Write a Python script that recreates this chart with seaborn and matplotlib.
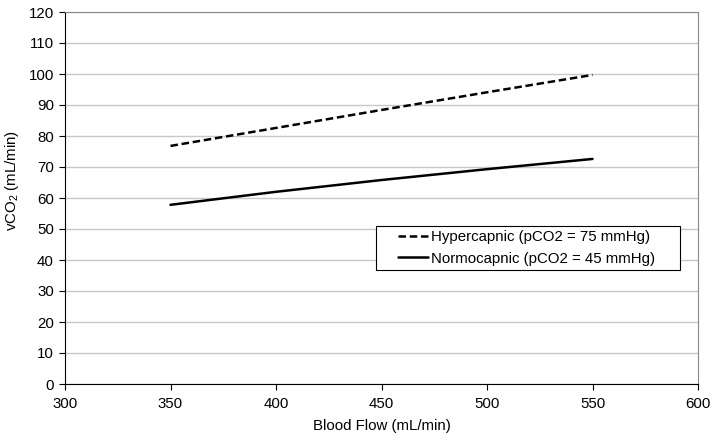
import matplotlib
matplotlib.use("Agg")
import matplotlib.pyplot as plt
from matplotlib.patches import Rectangle
import seaborn as sns
import pandas as pd

blood_flow = [350, 400, 450, 500, 550]
hypercapnic = [76.8, 82.6, 88.4, 94.1, 99.7]
normocapnic = [57.8, 62.0, 65.8, 69.3, 72.6]
series_names = ["Hypercapnic (pCO2 = 75 mmHg)", "Normocapnic (pCO2 = 45 mmHg)"]

df = pd.DataFrame({
    "flow": blood_flow * 2,
    "vco2": hypercapnic + normocapnic,
    "series": [series_names[0]] * len(blood_flow) + [series_names[1]] * len(blood_flow),
})

sns.set_theme(style="white")
plt.rcParams["font.family"] = ["Liberation Sans", "DejaVu Sans"]
plt.rcParams["mathtext.default"] = "regular"
plt.rcParams["text.color"] = "black"

FS = 10.8
LW = 1.8
W, H = 719, 442
fig = plt.figure(figsize=(W / 100, H / 100), dpi=100)
ax = fig.add_axes([65 / W, 1 - 384 / H, 633 / W, 372 / H])

sns.lineplot(data=df, x="flow", y="vco2", hue="series", style="series",
             palette=["black", "black"],
             dashes={series_names[0]: (3.0, 1.5), series_names[1]: ""},
             linewidth=LW, ax=ax, legend=True)

ax.set_xlim(300, 600)
ax.set_ylim(0, 120)
ax.set_xticks(range(300, 601, 50))
ax.set_yticks(range(0, 121, 10))
ax.yaxis.grid(True, color="#c8c8c8", linewidth=1)
ax.xaxis.grid(False)
ax.set_axisbelow(True)

for s in ["top", "right"]:
    ax.spines[s].set_color("#888888")
    ax.spines[s].set_linewidth(0.8)
for s in ["left", "bottom"]:
    ax.spines[s].set_color("black")
    ax.spines[s].set_linewidth(0.8)

ax.tick_params(axis="both", which="major", direction="out", length=4, width=0.8,
               color="black", labelsize=FS, labelcolor="black", bottom=True, left=True)
ax.tick_params(axis="x", pad=5)
ax.tick_params(axis="y", pad=4)

ax.set_xlabel("Blood Flow (mL/min)", fontsize=FS, color="black", labelpad=6)
ax.set_ylabel("vCO$_2$ (mL/min)", fontsize=FS, color="black")
ax.yaxis.set_label_coords((21 - 65) / 633, (384 - 181) / 372)

handles, labels = ax.get_legend_handles_labels()
ax.get_legend().remove()

# legend frame box (figure pixel coords -> figure fraction)
fig.patches.append(Rectangle((376 / W, 1 - 270 / H), (680 - 376) / W, (270 - 226) / H,
                             transform=fig.transFigure, facecolor="white",
                             edgecolor="black", linewidth=0.8, zorder=3))

leg = fig.legend(handles, labels, loc="upper left",
                 bbox_to_anchor=(398 / W, 1 - 230 / H),
                 frameon=False, fontsize=FS,
                 handlelength=2.0, handletextpad=0.2, borderpad=0,
                 labelspacing=0.5, borderaxespad=0, labelcolor="black")
leg.set_zorder(4)
for line in leg.get_lines():
    line.set_linewidth(LW)

fig.savefig("out.png", dpi=100)
